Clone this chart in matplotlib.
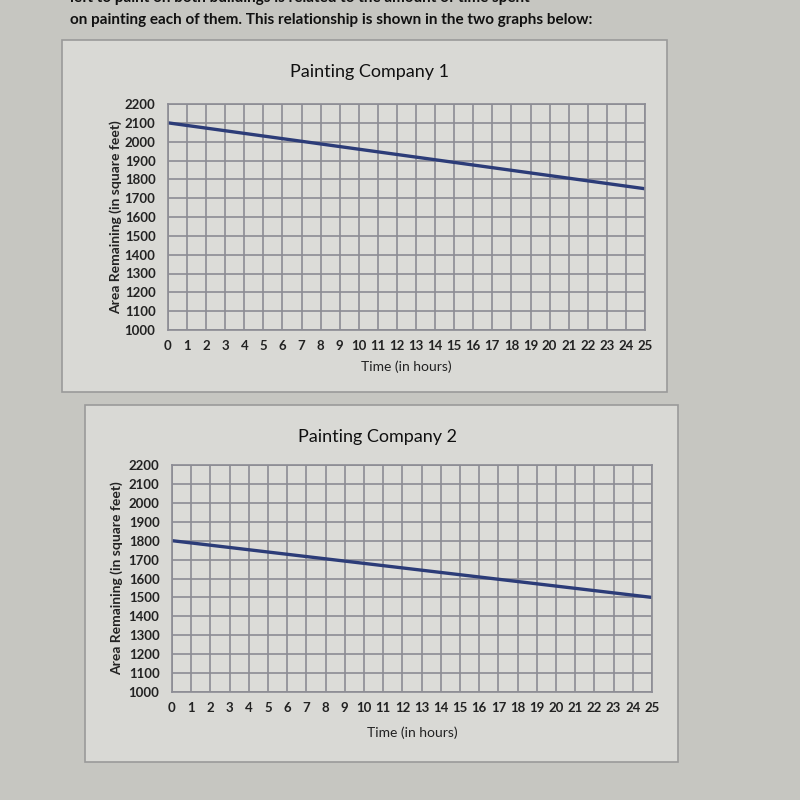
import matplotlib
matplotlib.use("Agg")
import matplotlib.pyplot as plt
from matplotlib.patches import Rectangle
import numpy as np

plt.rcParams['font.family'] = ['Lato', 'DejaVu Sans']

# Data
hours = [0, 25]
company1_area = [2100, 1750]
company2_area = [1800, 1500]
x_ticks = list(range(0, 26))
y_ticks = list(range(1000, 2201, 100))
titles = ["Painting Company 1", "Painting Company 2"]
xlabel = "Time (in hours)"
ylabel = "Area Remaining (in square feet)"

W = H = 800
fig = plt.figure(figsize=(8, 8), dpi=100)
fig.patch.set_facecolor('#c6c6c1')

def fx(px): return px / W
def fy(py): return 1 - py / H

# header text
fig.text(fx(70), fy(20), "on painting each of them. This relationship is shown in the two graphs below:",
         fontsize=11, color='#111111', ha='left', va='center', fontweight='bold')
fig.text(fx(70), fy(-2), "left to paint on both buildings is related to the amount of time spent",
         fontsize=11, color='#111111', ha='left', va='center', fontweight='bold')

# chart boxes
boxes = [(62, 40, 667, 392), (85, 405, 678, 762)]
for (x0, y0, x1, y1) in boxes:
    fig.patches.append(Rectangle((fx(x0), fy(y1)), fx(x1 - x0), (y1 - y0) / H,
                                 transform=fig.transFigure, facecolor='#d9d9d5',
                                 edgecolor='#9a9a9a', linewidth=1.2, zorder=-5))

axes_px = [(168, 104, 645, 330), (172, 465, 652, 692)]
series = [company1_area, company2_area]
title_y = [72, 437]
title_x = [370, 378]
ylab_x = [116, 117]
xlab_y = [367, 733]

for i, (x0, y0, x1, y1) in enumerate(axes_px):
    ax = fig.add_axes([fx(x0), fy(y1), fx(x1 - x0), (y1 - y0) / H], zorder=2)
    ax.set_facecolor('#dcdcd8')
    ax.set_xlim(0, 25)
    ax.set_ylim(1000, 2200)
    ax.set_xticks(x_ticks)
    ax.set_yticks(y_ticks)
    ax.grid(True, color='#8c8c94', linewidth=1.2)
    ax.set_axisbelow(True)
    for s in ax.spines.values():
        s.set_color('#8c8c94')
        s.set_linewidth(1.2)
    ax.tick_params(length=0, labelsize=9.5, colors='#222222')
    ax.tick_params(axis='y', pad=9)
    ax.tick_params(axis='x', pad=7)
    for lab in ax.get_xticklabels() + ax.get_yticklabels():
        lab.set_fontweight('bold')
    ax.plot(hours, series[i], color='#2c3c78', linewidth=2.4, solid_capstyle='butt', clip_on=False)
    fig.text(fx(title_x[i]), fy(title_y[i]), titles[i], fontsize=13, color='#111111',
             ha='center', va='center')
    fig.text(fx(ylab_x[i]), (fy(y0) + fy(y1)) / 2, ylabel, fontsize=10, color='#222222',
             rotation=90, ha='center', va='center', fontweight='bold')
    fig.text(fx((x0 + x1) / 2), fy(xlab_y[i]), xlabel, fontsize=10, color='#222222',
             ha='center', va='center')

fig.savefig('out.png', dpi=100, facecolor=fig.get_facecolor())
